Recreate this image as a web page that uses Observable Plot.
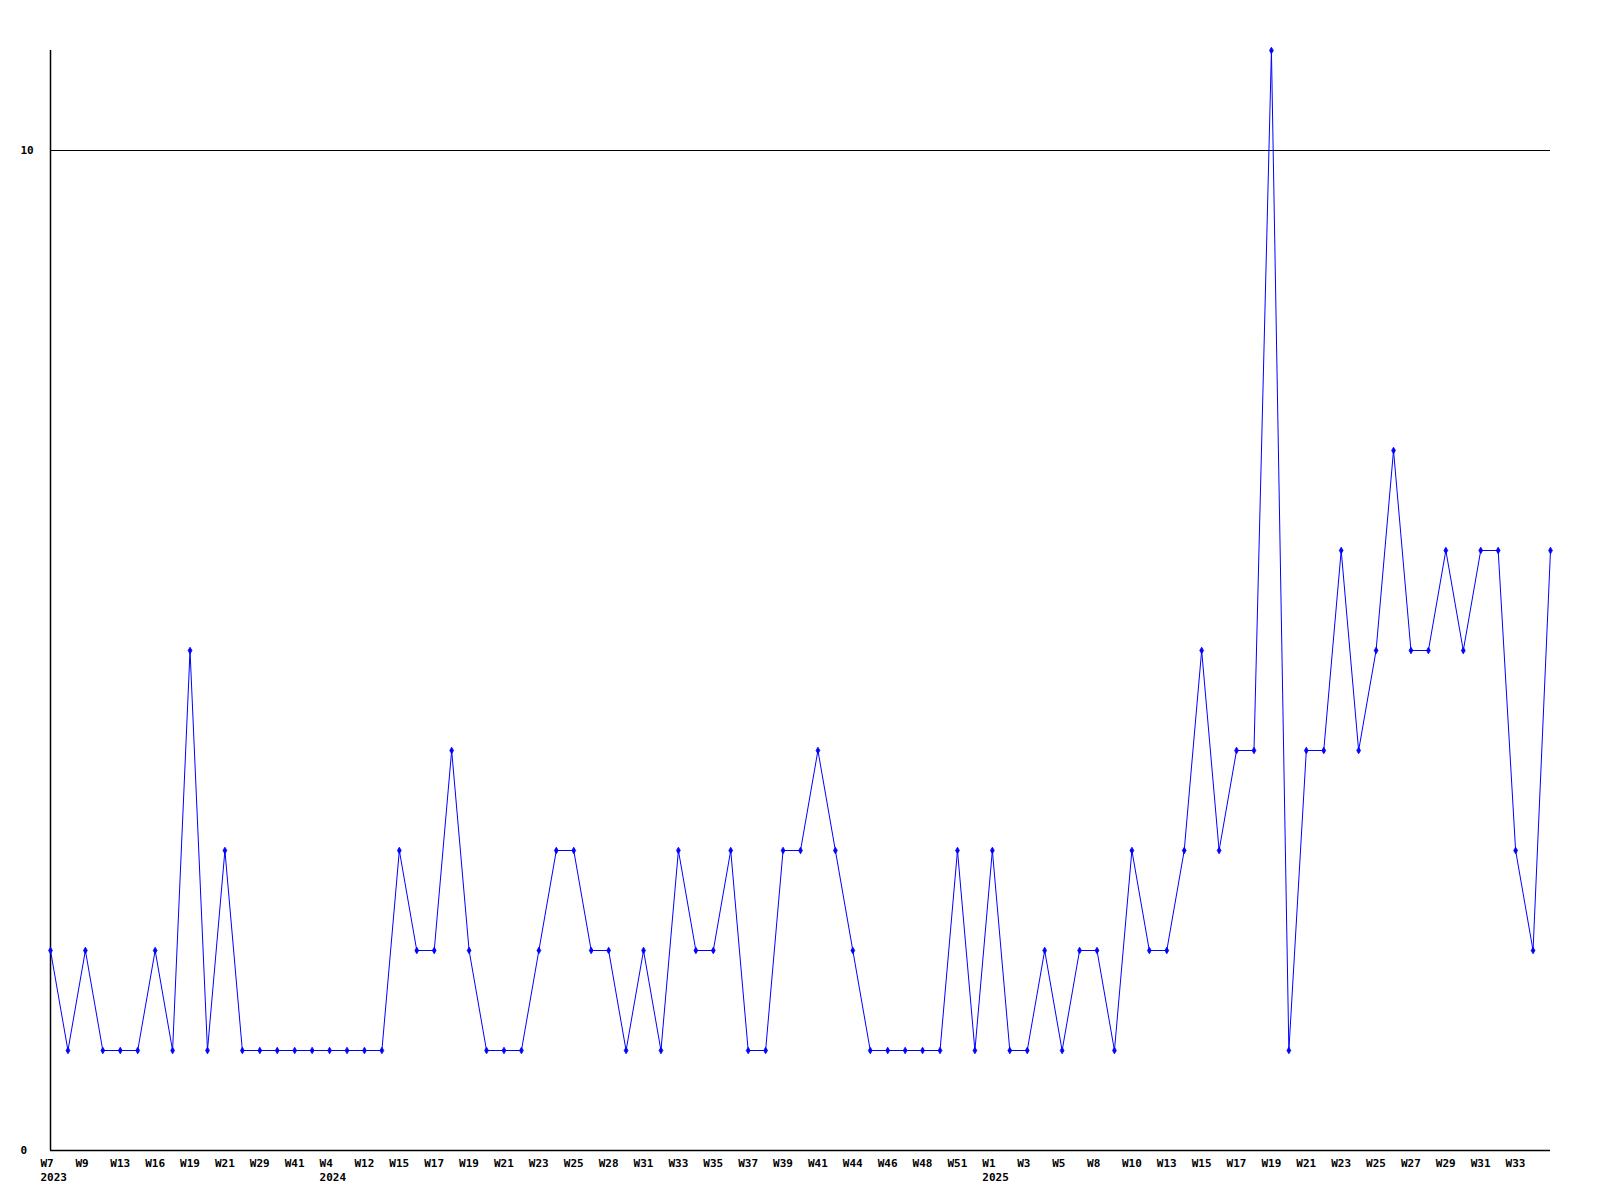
<!DOCTYPE html>
<html>
<head>
<meta charset="utf-8">
<script src="https://cdn.jsdelivr.net/npm/d3@7"></script>
<script src="https://cdn.jsdelivr.net/npm/@observablehq/plot@0.6"></script>
<style>
  html, body { margin: 0; padding: 0; background: #fff; }
  #chart { width: 1600px; height: 1200px; }
</style>
</head>
<body>
<div id="chart"></div>
<script>
// Weekly counts, in order (one per plotted week)
const values = [
  2, 1, 2, 1, 1, 1, 2, 1, 5, 1,
  3, 1, 1, 1, 1, 1, 1, 1, 1, 1,
  3, 2, 2, 4, 2, 1, 1, 1, 2, 3,
  3, 2, 2, 1, 2, 1, 3, 2, 2, 3,
  1, 1, 3, 3, 4, 3, 2, 1, 1, 1,
  1, 1, 3, 1, 3, 1, 1, 2, 1, 2,
  2, 1, 3, 2, 2, 3, 5, 3, 4, 4,
  11, 1, 4, 4, 6, 4, 5, 7, 5, 5,
  6, 5, 6, 6, 3, 2, 6
];

// Tick labels shown under every second week
const tickLabels = [
  "W7", "W9", "W13", "W16", "W19", "W21", "W29", "W41",
  "W4", "W12", "W15", "W17", "W19", "W21", "W23", "W25", "W28", "W31", "W33", "W35",
  "W37", "W39", "W41", "W44", "W46", "W48", "W51",
  "W1", "W3", "W5", "W8", "W10", "W13", "W15", "W17", "W19", "W21", "W23", "W25",
  "W27", "W29", "W31", "W33"
];

// Year shown beneath a given tick label (by tick label position)
const yearTickIndex = [0, 8, 27];
const yearNames = ["2023", "2024", "2025"];

const yTicks = [0, 10];

const data = values.map((v, i) => ({i, v}));
const tickPositions = tickLabels.map((_, k) => k * 2);
const yearByTick = new Map(yearTickIndex.map((k, j) => [k, yearNames[j]]));

const fmtX = (d) => {
  const k = d / 2;
  const lab = tickLabels[k];
  return yearByTick.has(k) ? lab + "\n" + yearByTick.get(k) : lab;
};

const font = "'DejaVu Sans Mono', monospace";

const chart = Plot.plot({
  width: 1600,
  height: 1200,
  marginLeft: 50,
  marginRight: 50,
  marginTop: 50,
  marginBottom: 50,
  style: {fontFamily: font, fontSize: "11px", fontWeight: "bold", background: "#fff", color: "#000"},
  x: {domain: [0, values.length - 1]},
  y: {domain: [0, 11]},
  marks: [
    Plot.ruleY([10], {stroke: "#000", strokeWidth: 1}),
    Plot.ruleY([0], {stroke: "#000", strokeWidth: 1.5}),
    Plot.ruleX([0], {stroke: "#000", strokeWidth: 1.5}),
    Plot.axisX({
      ticks: tickPositions,
      tickSize: 0,
      tickPadding: 6,
      tickFormat: fmtX,
      lineHeight: 1.28,
      textAnchor: "start",
      dx: -10,
      label: null,
      fontWeight: "bold",
      fill: "#000"
    }),
    Plot.axisY({
      ticks: yTicks,
      tickSize: 0,
      tickPadding: 30,
      textAnchor: "start",
      tickFormat: d => String(d),
      label: null,
      fontWeight: "bold",
      fill: "#000"
    }),
    Plot.line(data, {x: "i", y: "v", stroke: "#0000ff", strokeWidth: 1}),
    Plot.dot(data, {x: "i", y: "v", symbol: "diamond", r: 2, fill: "#0000ff", stroke: "#0000ff", strokeWidth: 0.8})
  ]
});

document.getElementById("chart").appendChild(chart);
</script>
</body>
</html>
